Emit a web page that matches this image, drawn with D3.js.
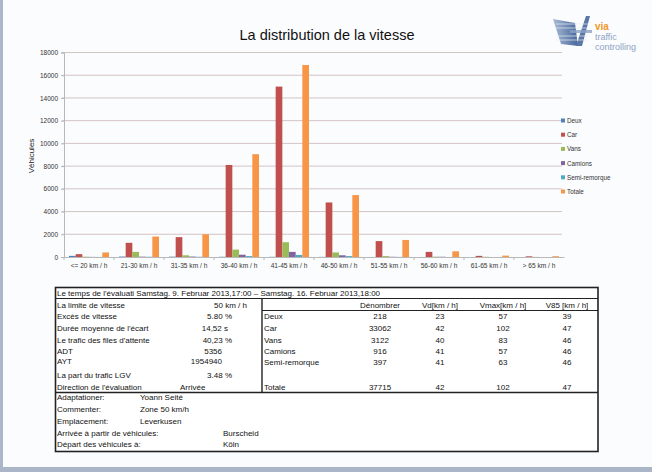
<!DOCTYPE html>
<html><head><meta charset="utf-8">
<script src="https://cdn.jsdelivr.net/npm/d3@7"></script>
<style>
html,body{margin:0;padding:0;background:#fff;}
svg{display:block;}
text{font-family:"Liberation Sans",Arial,sans-serif;}
.tb{font-family:"Liberation Sans Narrow","Liberation Sans",Arial,sans-serif;font-size:8px;fill:#111;}
</style></head><body>
<svg id="c" width="652" height="472"></svg>
<script>
// ---------- data ----------
const categories = ["<= 20 km / h","21-30 km / h","31-35 km / h","36-40 km / h","41-45 km / h","46-50 km / h","51-55 km / h","56-60 km / h","61-65 km / h","> 65 km / h"];
const seriesNames = ["Deux","Car","Vans","Camions","Semi-remorque","Totale"];
const deux    = [100, 40, 30, 20, 15, 10, 3, 0, 0, 0];
const car     = [250, 1250, 1750, 8100, 15000, 4800, 1400, 450, 100, 60];
const vans    = [30, 450, 150, 650, 1300, 400, 80, 30, 20, 10];
const camions = [10, 30, 40, 200, 450, 150, 20, 20, 0, 0];
const semi    = [5, 20, 20, 80, 180, 80, 10, 0, 0, 0];
const totale  = [400, 1800, 2000, 9050, 16900, 5450, 1500, 500, 120, 70];
const yTicks  = [0, 2000, 4000, 6000, 8000, 10000, 12000, 14000, 16000, 18000];
const chartTitle = "La distribution de la vitesse";
const yTitle = "Véhicules";

const periodText = "Le temps de l'évaluati Samstag. 9. Februar 2013,17:00  –  Samstag. 16. Februar 2013,18:00";
const statLabels = ["La limite de vitesse","Excès de vitesse","Durée moyenne de l'écart","Le trafic des files d'attente","ADT","AYT","La part du trafic LGV","Direction de l'évaluation"];
const statValues = ["50 km / h","5.80 %","14,52 s","40,23 %","5356","1954940","3.48 %","Arrivée"];
const vehHeaders = ["Dénombrer","Vd[km / h]","Vmax[km / h]","V85 [km / h]"];
const vehNames = ["Deux","Car","Vans","Camions","Semi-remorque","Totale"];
const vehCount = ["218","33062","3122","916","397","37715"];
const vehVd    = ["23","42","40","41","41","42"];
const vehVmax  = ["57","102","83","57","63","102"];
const vehV85   = ["39","47","46","46","46","47"];
const infoLabels = ["Adaptationer:","Commenter:","Emplacement:","Arrivée à partir de véhicules:","Départ des véhicules à:"];
const infoValues = ["Yoann Seité","Zone 50 km/h","Leverkusen","Burscheid","Köln"];

const colors = ["#4F81BD","#C0504D","#9BBB59","#8064A2","#4BACC6","#F79646"];
const seriesData = [deux, car, vans, camions, semi, totale];

// ---------- page frame ----------
const svg = d3.select("#c");
svg.append("rect").attr("x",0).attr("y",0).attr("width",652).attr("height",472).attr("fill","#fbfcfe");
svg.append("rect").attr("x",0).attr("y",0).attr("width",3).attr("height",472).attr("fill","#a9b6cb");
svg.append("rect").attr("x",0).attr("y",467).attr("width",652).attr("height",5).attr("fill","#aab5c8");

// ---------- chart ----------
const X0 = 64, X1 = 564, Y0 = 257, Y1 = 52.5;
const x = d3.scaleBand().domain(categories).range([X0, X1]).paddingInner(0).paddingOuter(0);
const y = d3.scaleLinear().domain([0, 18000]).range([Y0, Y1]);
const bw = x.bandwidth() / 7.5;   // Excel gap width 150%
const xs = d3.scaleBand().domain(seriesNames).range([0.75*bw, 0.75*bw + 6*bw]);

const g = svg.append("g");
g.selectAll("line.grid").data(yTicks.filter(d => d > 0)).join("line")
  .attr("x1", X0 - 2).attr("x2", X1 - 2)
  .attr("y1", d => y(d)).attr("y2", d => y(d))
  .attr("stroke", "#d3c3c3").attr("stroke-width", 1);

const yAxis = d3.axisLeft(y).tickValues(yTicks).tickSize(3).tickFormat(d3.format("d"));
const ya = g.append("g").attr("transform", `translate(${X0},0)`).call(yAxis);
ya.select(".domain").attr("stroke", "#b8b8b8");
ya.selectAll(".tick line").attr("stroke", "#b8b8b8");
ya.selectAll(".tick text").attr("font-size", 6.5).attr("fill", "#333").attr("x", -6);

const xAxis = d3.axisBottom(x).tickSize(0);
const xa = g.append("g").attr("transform", `translate(0,${Y0})`).call(xAxis);
xa.select(".domain").attr("stroke", "#b8b8b8");
xa.selectAll(".tick text").attr("font-size", 6.6).attr("fill", "#333").attr("dy", "1.25em");
g.selectAll("line.xt").data(categories).join("line")
  .attr("x1", d => x(d)).attr("x2", d => x(d)).attr("y1", Y0).attr("y2", Y0 + 3)
  .attr("stroke", "#b8b8b8");

seriesNames.forEach((s, si) => {
  g.append("g").selectAll("rect").data(categories.map((c, i) => ({c, v: seriesData[si][i]}))).join("rect")
    .attr("x", d => x(d.c) + xs(s))
    .attr("y", d => y(d.v))
    .attr("width", xs.bandwidth())
    .attr("height", d => Y0 - y(d.v))
    .attr("fill", colors[si]);
});

svg.append("text").attr("x", 327).attr("y", 40).attr("text-anchor", "middle")
  .attr("font-size", 14.5).attr("fill", "#111").text(chartTitle);
svg.append("text").attr("transform", "translate(34,156) rotate(-90)").attr("text-anchor", "middle")
  .attr("font-size", 8).attr("fill", "#222").text(yTitle);

const lg = svg.append("g").attr("transform", "translate(561,121)");
seriesNames.forEach((s, i) => {
  lg.append("rect").attr("x", 0).attr("y", i*14.2 - 2.5).attr("width", 4).attr("height", 4).attr("fill", colors[i]);
  lg.append("text").attr("x", 6).attr("y", i*14.2 + 2).attr("font-size", 6.3).attr("fill", "#333").text(s);
});

// logo
const logo = svg.append("g");
const lgrad = svg.append("defs").append("linearGradient").attr("id","lgr").attr("x1","0").attr("x2","1");
lgrad.append("stop").attr("offset","0").attr("stop-color","#a9bad4");
lgrad.append("stop").attr("offset","1").attr("stop-color","#47679b");
logo.append("path").attr("d","M553,19 L575,23 L578,46 L561,44 Z").attr("fill","url(#lgr)");
logo.append("path").attr("d","M576,46 L586,16 L590,16 L582,46 Z").attr("fill","#5a77a6");
logo.append("path").attr("d","M570,30 L592,30 L592,33 L570,33 Z").attr("fill","#8ca1c4").attr("opacity",0.8);
[24,28,36,40].forEach(yy => logo.append("line").attr("x1",556).attr("x2",588).attr("y1",yy).attr("y2",yy).attr("stroke","#e6ecf5").attr("stroke-width",0.7));
logo.append("text").attr("x",595).attr("y",30).attr("font-size",10).attr("font-weight","bold").attr("fill","#f0962a").text("via");
logo.append("text").attr("x",595).attr("y",40).attr("font-size",9).attr("fill","#8fa3c2").text("traffic");
logo.append("text").attr("x",595).attr("y",50).attr("font-size",9).attr("fill","#8fa3c2").text("controlling");

// ---------- table ----------
const T = svg.append("g");
const TL = 55.5, TR = 598, TT = 287.5, TB = 451.5;
T.append("rect").attr("x", TL).attr("y", TT).attr("width", TR-TL).attr("height", TB-TT)
  .attr("fill", "#fff").attr("stroke", "#222").attr("stroke-width", 1.6);
T.append("line").attr("x1", TL).attr("x2", TR).attr("y1", 298.5).attr("y2", 298.5).attr("stroke", "#222").attr("stroke-width", 1.2);
T.append("line").attr("x1", TL).attr("x2", TR).attr("y1", 392.5).attr("y2", 392.5).attr("stroke", "#222").attr("stroke-width", 1.6);
T.append("line").attr("x1", 262).attr("x2", 262).attr("y1", 298.5).attr("y2", 392.5).attr("stroke", "#222").attr("stroke-width", 1.4);
T.append("line").attr("x1", 262).attr("x2", TR).attr("y1", 310.5).attr("y2", 310.5).attr("stroke", "#222").attr("stroke-width", 1.2);

T.append("text").attr("class","tb").attr("x", 57).attr("y", 296).text(periodText);

const statY = [305, 316, 328, 340, 351, 361, 375, 387];
const statAnchorX = [247, 232, 228, 232, 222, 222, 232, 180];
statLabels.forEach((l, i) => {
  T.append("text").attr("class","tb").attr("x", 57).attr("y", statY[i] + 3).text(l);
  T.append("text").attr("class","tb").attr("x", statAnchorX[i]).attr("y", statY[i] + 3)
    .attr("text-anchor", i === 7 ? "start" : "end").text(statValues[i]);
});

const colX = [380, 440, 503, 567];
vehHeaders.forEach((h, i) => T.append("text").attr("class","tb").attr("x", colX[i]).attr("y", 308).attr("text-anchor","middle").text(h));
const vehY = [316, 328, 340, 351, 362, 387];
vehNames.forEach((n, i) => {
  T.append("text").attr("class","tb").attr("x", 264).attr("y", vehY[i] + 3).text(n);
  [vehCount, vehVd, vehVmax, vehV85].forEach((arr, j) =>
    T.append("text").attr("class","tb").attr("x", colX[j]).attr("y", vehY[i] + 3).attr("text-anchor","middle").text(arr[i]));
});

const infoY = [397, 409, 421, 433, 444];
const infoValX = [140, 140, 140, 223, 223];
infoLabels.forEach((l, i) => {
  T.append("text").attr("class","tb").attr("x", 57).attr("y", infoY[i] + 3).text(l);
  T.append("text").attr("class","tb").attr("x", infoValX[i]).attr("y", infoY[i] + 3).text(infoValues[i]);
});
</script>
</body></html>
